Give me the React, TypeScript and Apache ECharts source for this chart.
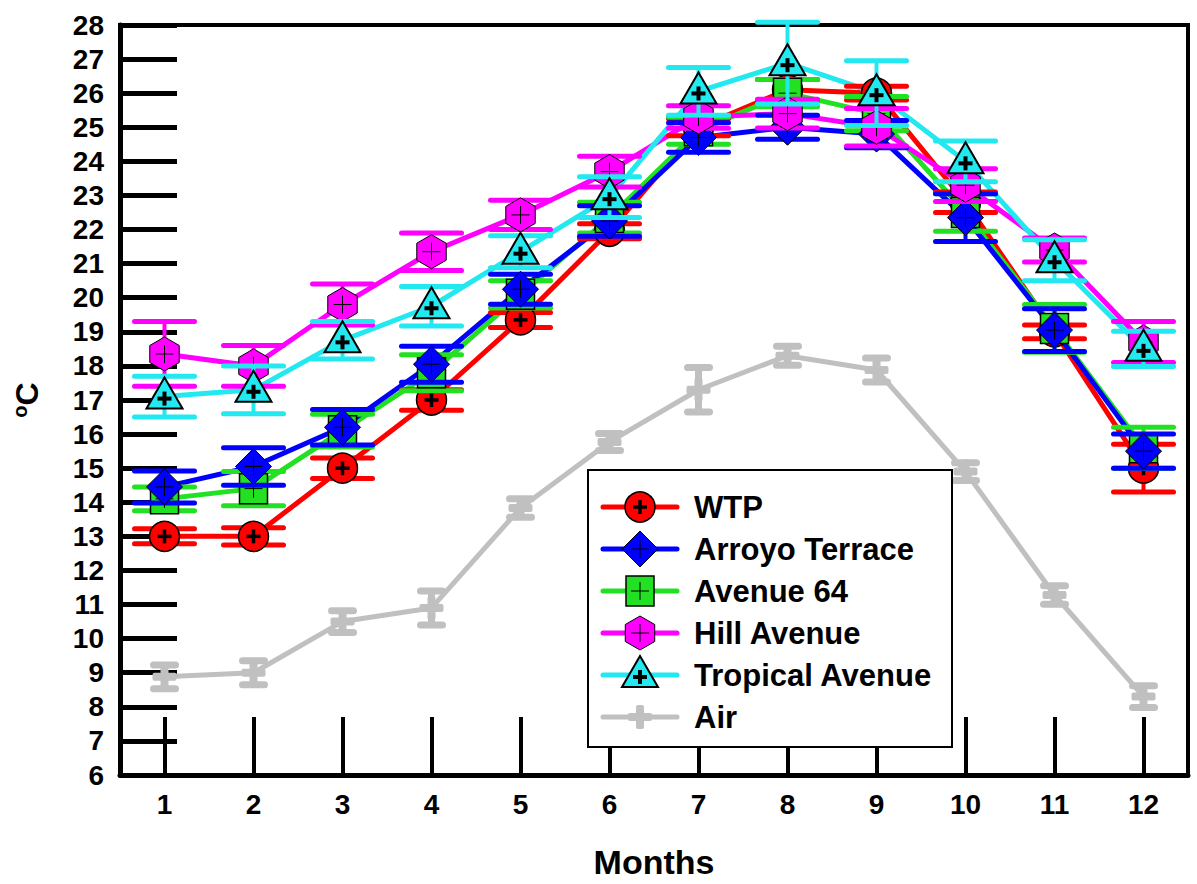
import React, { useEffect, useRef } from "react";
import * as echarts from "echarts";

const months = ["1", "2", "3", "4", "5", "6", "7", "8", "9", "10", "11", "12"];
const yMin = 6;
const yMax = 28;
const yStep = 1;

const wtp = [13.0, 13.0, 15.0, 17.0, 19.35, 21.95, 25.0, 26.1, 26.0, 22.8, 19.0, 15.0];
const wtpErr = [0.22, 0.25, 0.3, 0.3, 0.22, 0.22, 0.25, 0.3, 0.2, 0.3, 0.2, 0.7];

const arroyo = [14.45, 15.05, 16.2, 18.05, 20.25, 22.25, 24.7, 25.0, 24.8, 22.35, 19.05, 15.5];
const arroyoErr = [0.47, 0.55, 0.52, 0.53, 0.44, 0.45, 0.43, 0.35, 0.4, 0.7, 0.63, 0.5];

const avenue64 = [14.1, 14.4, 16.1, 17.8, 20.1, 22.35, 24.9, 26.0, 25.4, 22.5, 19.1, 15.6];
const avenue64Err = [0.35, 0.5, 0.48, 0.53, 0.4, 0.45, 0.4, 0.4, 0.5, 0.55, 0.7, 0.6];

const hill = [18.35, 18.0, 19.8, 21.35, 22.43, 23.7, 25.3, 25.4, 25.0, 23.3, 21.4, 18.7];
const hillErr = [0.95, 0.6, 0.6, 0.55, 0.43, 0.45, 0.33, 0.42, 0.55, 0.48, 0.35, 0.6];

const tropical = [17.1, 17.3, 18.75, 19.75, 21.35, 22.95, 26.05, 26.88, 26.0, 24.0, 21.1, 18.5];
const tropicalErr = [0.6, 0.7, 0.55, 0.58, 0.47, 0.6, 0.7, 1.2, 0.95, 0.6, 0.6, 0.52];

const air = [8.88, 9.0, 10.5, 10.9, 13.83, 15.77, 17.3, 18.3, 17.88, 14.9, 11.28, 8.3];
const airErr = [0.35, 0.35, 0.32, 0.5, 0.27, 0.25, 0.65, 0.28, 0.35, 0.26, 0.27, 0.32];

type Kind = "circle" | "diamond" | "square" | "hexagon" | "triangle" | "air";
interface Station {
  name: string;
  values: number[];
  errs: number[];
  color: string;
  kind: Kind;
}

// legend order
const stations: Station[] = [
  { name: "WTP", values: wtp, errs: wtpErr, color: "#ff0000", kind: "circle" },
  { name: "Arroyo Terrace", values: arroyo, errs: arroyoErr, color: "#0000ff", kind: "diamond" },
  { name: "Avenue 64", values: avenue64, errs: avenue64Err, color: "#22e022", kind: "square" },
  { name: "Hill Avenue", values: hill, errs: hillErr, color: "#ff00ff", kind: "hexagon" },
  { name: "Tropical Avenue", values: tropical, errs: tropicalErr, color: "#22e8f0", kind: "triangle" },
  { name: "Air", values: air, errs: airErr, color: "#c0c0c0", kind: "air" },
];

// drawing order (bottom to top)
const drawOrder = ["Air", "WTP", "Avenue 64", "Arroyo Terrace", "Hill Avenue", "Tropical Avenue"];

const FONT = "'Liberation Sans', Arial, sans-serif";

function thickPlus(cx: number, cy: number, half: number, th: number): any[] {
  return [
    { type: "rect", shape: { x: cx - half, y: cy - th / 2, width: half * 2, height: th }, style: { fill: "#000" } },
    { type: "rect", shape: { x: cx - th / 2, y: cy - half, width: th, height: half * 2 }, style: { fill: "#000" } },
  ];
}

function thinPlus(cx: number, cy: number, half: number): any[] {
  return [
    { type: "line", shape: { x1: cx - half, y1: cy, x2: cx + half, y2: cy }, style: { stroke: "#000", lineWidth: 1 } },
    { type: "line", shape: { x1: cx, y1: cy - half, x2: cx, y2: cy + half }, style: { stroke: "#000", lineWidth: 1 } },
  ];
}

function markerElems(kind: Kind, cx: number, cy: number, color: string): any[] {
  const st = { fill: color, stroke: "#000", lineWidth: 1.5 };
  switch (kind) {
    case "circle":
      return [{ type: "circle", shape: { cx, cy, r: 15 }, style: st }, ...thickPlus(cx, cy, 7, 3.5)];
    case "diamond":
      return [
        { type: "polygon", shape: { points: [[cx, cy - 18], [cx + 18, cy], [cx, cy + 18], [cx - 18, cy]] }, style: { ...st, lineWidth: 1 } },
        ...thinPlus(cx, cy, 9),
      ];
    case "square":
      return [
        { type: "rect", shape: { x: cx - 14, y: cy - 15, width: 28, height: 30 }, style: { ...st, lineWidth: 1.5 } },
        ...thinPlus(cx, cy, 9),
      ];
    case "hexagon": {
      const R = 17;
      const pts: number[][] = [];
      for (let i = 0; i < 6; i++) {
        const a = (Math.PI / 180) * (90 + 60 * i);
        pts.push([cx + R * Math.cos(a), cy - R * Math.sin(a)]);
      }
      return [{ type: "polygon", shape: { points: pts }, style: { ...st, lineWidth: 1 } }, ...thinPlus(cx, cy, 9)];
    }
    case "triangle":
      return [
        { type: "polygon", shape: { points: [[cx, cy - 19], [cx + 18, cy + 12], [cx - 18, cy + 12]] }, style: { ...st, lineWidth: 2 } },
        ...thickPlus(cx, cy + 2, 7, 4),
      ];
    case "air":
    default:
      return [
        { type: "rect", shape: { x: cx - 12, y: cy - 4, width: 24, height: 8, r: 2 }, style: { fill: color } },
        { type: "rect", shape: { x: cx - 4, y: cy - 12, width: 8, height: 24, r: 2 }, style: { fill: color } },
      ];
  }
}

function errorElems(kind: Kind, cx: number, yTop: number, yBot: number, color: string): any[] {
  const isAir = kind === "air";
  const half = isAir ? 11 : 30;
  const lw = isAir ? 7 : 5;
  const vw = isAir ? 7 : 4;
  return [
    { type: "line", shape: { x1: cx, y1: yTop, x2: cx, y2: yBot }, style: { stroke: color, lineWidth: vw } },
    { type: "line", shape: { x1: cx - half, y1: yTop, x2: cx + half, y2: yTop }, style: { stroke: color, lineWidth: lw, lineCap: "round" } },
    { type: "line", shape: { x1: cx - half, y1: yBot, x2: cx + half, y2: yBot }, style: { stroke: color, lineWidth: lw, lineCap: "round" } },
  ];
}

function buildOption() {
  const series: any[] = [];
  drawOrder.forEach((name, order) => {
    const s = stations.find((t) => t.name === name)!;
    series.push({
      type: "line",
      name: s.name + " line",
      data: s.values,
      symbol: "none",
      lineStyle: { color: s.color, width: 5 },
      z: 2 + order * 0.01,
      silent: true,
    });
  });
  drawOrder.forEach((name, order) => {
    const s = stations.find((t) => t.name === name)!;
    series.push({
      type: "custom",
      name: s.name,
      data: s.values.map((v, i) => [i, v, s.errs[i]]),
      encode: { x: 0, y: 1 },
      z: 3 + order,
      clip: false,
      renderItem: (params: any, api: any) => {
        const xi = api.value(0);
        const v = api.value(1);
        const e = api.value(2);
        const p = api.coord([xi, v]);
        const top = api.coord([xi, v + e])[1];
        const bot = api.coord([xi, v - e])[1];
        return {
          type: "group",
          children: [...errorElems(s.kind, p[0], top, bot, s.color), ...markerElems(s.kind, p[0], p[1], s.color)],
        };
      },
    });
  });

  // legend drawn as graphic
  const lx = 588, ly = 470, lw = 364, lh = 277;
  const legendChildren: any[] = [
    { type: "rect", shape: { x: lx, y: ly, width: lw, height: lh }, style: { fill: "#fff", stroke: "#000", lineWidth: 2 } },
  ];
  stations.forEach((s, i) => {
    const y = 507 + i * 42;
    legendChildren.push({
      type: "line",
      shape: { x1: 603, y1: y, x2: 677, y2: y },
      style: { stroke: s.color, lineWidth: 5, lineCap: "round" },
    });
    legendChildren.push(...markerElems(s.kind, 640, y, s.color));
    legendChildren.push({
      type: "text",
      style: {
        x: 694,
        y: y,
        text: s.name,
        fill: "#000",
        font: `bold 31px ${FONT}`,
        textVerticalAlign: "middle",
        verticalAlign: "middle",
      },
    });
  });
  legendChildren.forEach((c) => {
    c.z = 200;
  });

  return {
    animation: false,
    backgroundColor: "#fff",
    grid: {
      left: 120,
      top: 25,
      width: 1068,
      height: 750,
      show: true,
      borderColor: "#000",
      borderWidth: 4,
      backgroundColor: "transparent",
    },
    xAxis: {
      type: "category",
      data: months,
      boundaryGap: true,
      name: "Months",
      nameLocation: "middle",
      nameGap: 70,
      nameTextStyle: { fontFamily: FONT, fontWeight: "bold", fontSize: 34, color: "#000" },
      axisLine: { show: true, lineStyle: { color: "#000", width: 5 } },
      axisTick: { show: true, interval: 0, alignWithLabel: true, inside: true, length: 58, lineStyle: { color: "#000", width: 4 } },
      axisLabel: { margin: 15, interval: 0, fontFamily: FONT, fontWeight: "bold", fontSize: 28, color: "#000" },
      splitLine: { show: false },
    },
    yAxis: {
      type: "value",
      min: yMin,
      max: yMax,
      interval: yStep,
      name: "{s|o}C",
      nameLocation: "middle",
      nameGap: 76,
      nameRotate: 90,
      nameTextStyle: {
        fontFamily: FONT,
        fontWeight: "bold",
        fontSize: 32,
        color: "#000",
        rich: {
          s: { fontFamily: FONT, fontWeight: "bold", fontSize: 20, color: "#000", verticalAlign: "top", lineHeight: 34, padding: [0, 0, 12, 0] },
        },
      },
      axisLine: { show: true, lineStyle: { color: "#000", width: 5 } },
      axisTick: { show: true, inside: true, length: 57, lineStyle: { color: "#000", width: 5 } },
      axisLabel: { margin: 16, fontFamily: FONT, fontWeight: "bold", fontSize: 28, color: "#000", showMinLabel: true, showMaxLabel: true },
      splitLine: { show: false },
    },
    series,
    graphic: [{ type: "group", z: 200, children: legendChildren }],
  };
}

export default function App() {
  const ref = useRef<HTMLDivElement>(null);
  useEffect(() => {
    if (!ref.current) return;
    const chart = echarts.init(ref.current, undefined, { renderer: "svg" });
    chart.setOption(buildOption() as any);
    return () => chart.dispose();
  }, []);
  return (
    <div
      ref={ref}
      style={{ position: "fixed", left: 0, top: 0, width: 1197, height: 884, background: "#fff" }}
    />
  );
}
